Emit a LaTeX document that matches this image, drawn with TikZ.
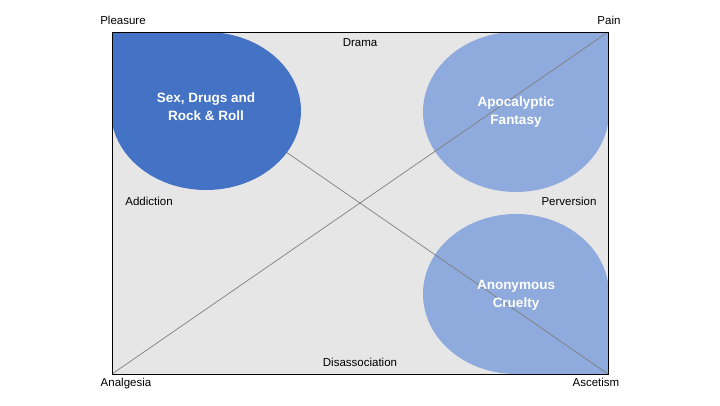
\documentclass[tikz,border=0pt]{standalone}
\usepackage{fontspec}
\setmainfont{Liberation Sans}
\definecolor{DeepBlue}{HTML}{4472C4}
\definecolor{PaleBlue}{HTML}{8FAADC}
\definecolor{PanelGray}{HTML}{E7E6E6}
\usetikzlibrary{positioning}

\begin{document}
\begin{tikzpicture}[
  x=1pt, y=-1pt,
  pole/.style={font=\fontsize{11.5}{13}\selectfont, inner sep=0pt, text height=8.5pt, text depth=2.5pt},
  blob/.style={font=\bfseries\fontsize{13.5}{17.5}\selectfont, text=white, align=center, inner sep=0pt},
  diag/.style={draw=gray, line width=0.7pt}
]
  \useasboundingbox (0,0) rectangle (720,405);
  \coordinate (tl) at (112,32);
  \coordinate (tr) at (608,32);
  \coordinate (bl) at (112,374);
  \coordinate (br) at (608,374);

  \fill[PanelGray] (tl) rectangle (br);
  \begin{scope}
    \clip (tl) rectangle (br);
    % teardrops, point in the corner
    \fill[PaleBlue] (tr) -- (516,32) arc[start angle=90, end angle=360, x radius=93pt, y radius=80pt] -- cycle;
    \fill[PaleBlue] (br) -- (516,374) arc[start angle=-90, end angle=-360, x radius=93pt, y radius=80pt] -- cycle;
    \draw[diag] (tl) -- (br);
    \draw[diag] (bl) -- (tr);
    \fill[DeepBlue] (tl) -- (206,32) arc[start angle=90, end angle=-180, x radius=95pt, y radius=79pt] -- cycle;
  \end{scope}
  \draw[line width=0.9pt] (tl) rectangle (br);

  \node[blob] (sex) at (206,106.5) {Sex, Drugs and\\Rock \& Roll};
  \node[blob] (apoc) at (516,112) {Apocalyptic\\Fantasy};
  \node[blob] (anon) at (516,295.5) {Anonymous\\Cruelty};

  \node[pole] (pleasure) at (123,21) {Pleasure};
  \node[pole] (pain) at (609,21) {Pain};
  \node[pole] (analgesia) at (126,383) {Analgesia};
  \node[pole] (ascetism) at (596,383) {Ascetism};
  \node[pole] (drama) at (360,43) {Drama};
  \node[pole] (disassoc) at (360,363) {Disassociation};
  \node[pole] (addiction) at (149,202) {Addiction};
  \node[pole] (perversion) at (569,202) {Perversion};
\end{tikzpicture}
\end{document}
